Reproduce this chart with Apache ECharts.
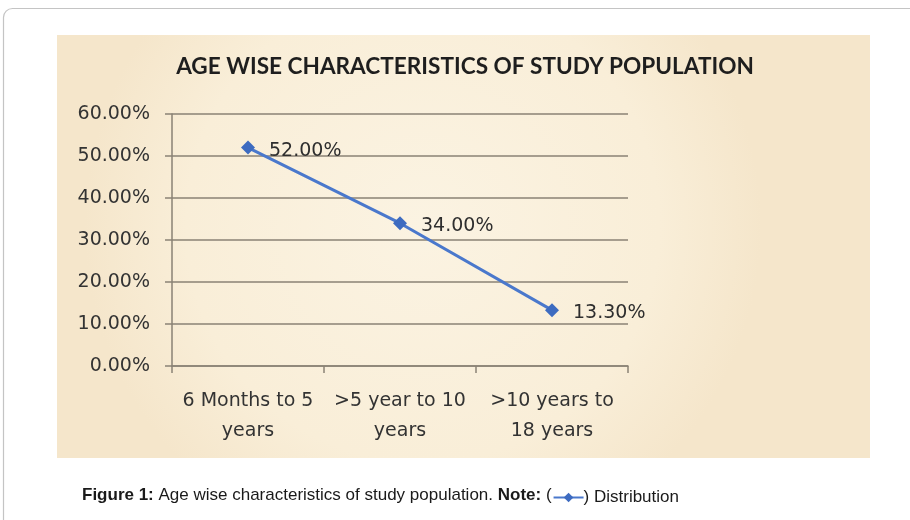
<!DOCTYPE html>
<html>
<head>
<meta charset="utf-8">
<script src="https://cdn.jsdelivr.net/npm/echarts@6/dist/echarts.min.js"></script>
<style>
html,body{margin:0;padding:0;background:#fff;}
#c{width:910px;height:520px;}
</style>
</head>
<body>
<div id="c"></div>
<script>
const categories = ['6 Months to 5\nyears', '>5 year to 10\nyears', '>10 years to\n18 years'];
const seriesName = 'Distribution';
const values = [52.00, 34.00, 13.30];
const yTicks = { min: 0, max: 60, interval: 10 };
const titleText = 'AGE WISE CHARACTERISTICS OF STUDY POPULATION';
const captionBold1 = 'Figure 1:';
const captionMid = ' Age wise characteristics of study population. ';
const captionBold2 = 'Note:';
const captionEnd = ' (';

const capFont = '"Liberation Sans", Arial, sans-serif';
const capSize = 17;
const cv = document.createElement('canvas').getContext('2d');
cv.font = 'bold ' + capSize + 'px ' + capFont;
let w = cv.measureText(captionBold1).width + cv.measureText(captionBold2).width;
cv.font = capSize + 'px ' + capFont;
w += cv.measureText(captionMid).width + cv.measureText(captionEnd).width;
const capLeft = 82;

const chart = echarts.init(document.getElementById('c'), null, { renderer: 'canvas' });
const gridColor = '#8a8275';
const tickFont = '"DejaVu Sans", Verdana, sans-serif';

chart.setOption({
  backgroundColor: '#ffffff',
  animation: false,
  title: {
    text: titleText, left: 465, top: 55, textAlign: 'center', padding: 0,
    textStyle: { fontFamily: 'Lato, "Open Sans", sans-serif', fontWeight: 'bold', fontSize: 22.6, color: '#1e1e1e' }
  },
  graphic: [
    { type: 'rect', z: -10, silent: true,
      shape: { x: 3.5, y: 8.5, width: 930, height: 540, r: 9 },
      style: { fill: '#fff', stroke: '#c4c4c4', lineWidth: 1.2 } },
    { type: 'rect', z: -9, silent: true,
      shape: { x: 57, y: 35, width: 813, height: 423 },
      style: { fill: new echarts.graphic.RadialGradient(0.45, 0.45, 0.8, [
        { offset: 0, color: '#fbf3e2' },
        { offset: 0.7, color: '#f9eed8' },
        { offset: 1, color: '#f5e6cb' }
      ]) } },
    { type: 'text', z: 5, silent: true,
      style: { x: capLeft, y: 495, verticalAlign: 'middle',
        text: '{b|' + captionBold1 + '}{r|' + captionMid + '}{b|' + captionBold2 + '}{r|' + captionEnd + '}',
        rich: {
          b: { fontFamily: capFont, fontSize: capSize, fontWeight: 'bold', fill: '#1a1a1a', color: '#1a1a1a' },
          r: { fontFamily: capFont, fontSize: capSize, fill: '#1a1a1a', color: '#1a1a1a' }
        } } }
  ],
  legend: {
    left: capLeft + w + 1, top: 489, padding: 0,
    itemWidth: 30, itemHeight: 12,
    data: [seriesName],
    formatter: () => ') ' + seriesName,
    textStyle: { fontFamily: capFont, fontSize: capSize, color: '#1a1a1a', padding: [0, 0, 0, -5] }
  },
  grid: { left: 172, right: 282, top: 114, bottom: 154 },
  xAxis: {
    type: 'category',
    data: categories,
    boundaryGap: true,
    axisLine: { show: true, lineStyle: { color: gridColor, width: 1.5 } },
    axisTick: { show: true, alignWithLabel: false, interval: 0, length: 7, lineStyle: { color: gridColor, width: 1.5 } },
    axisLabel: { interval: 0, margin: 20, fontFamily: tickFont, fontSize: 19, color: '#333', lineHeight: 30 }
  },
  yAxis: {
    type: 'value',
    min: yTicks.min, max: yTicks.max, interval: yTicks.interval,
    axisLine: { show: true, lineStyle: { color: gridColor, width: 1.5 } },
    axisTick: { show: true, length: 7, lineStyle: { color: gridColor, width: 1.5 } },
    splitLine: { show: true, lineStyle: { color: gridColor, width: 1.5 } },
    axisLabel: { margin: 22, fontFamily: tickFont, fontSize: 19, color: '#333',
      formatter: v => v.toFixed(2) + '%' }
  },
  series: [{
    name: seriesName,
    type: 'line',
    data: values,
    symbol: 'diamond',
    symbolSize: 14,
    lineStyle: { color: '#4a78cc', width: 3 },
    itemStyle: { color: '#3d6bc0' },
    label: {
      show: true, position: 'right', distance: 14, offset: [0, 3],
      fontFamily: tickFont, fontSize: 19, color: '#2e2e2e',
      formatter: p => p.value.toFixed(2) + '%'
    },
    z: 3
  }]
});
</script>
</body>
</html>
